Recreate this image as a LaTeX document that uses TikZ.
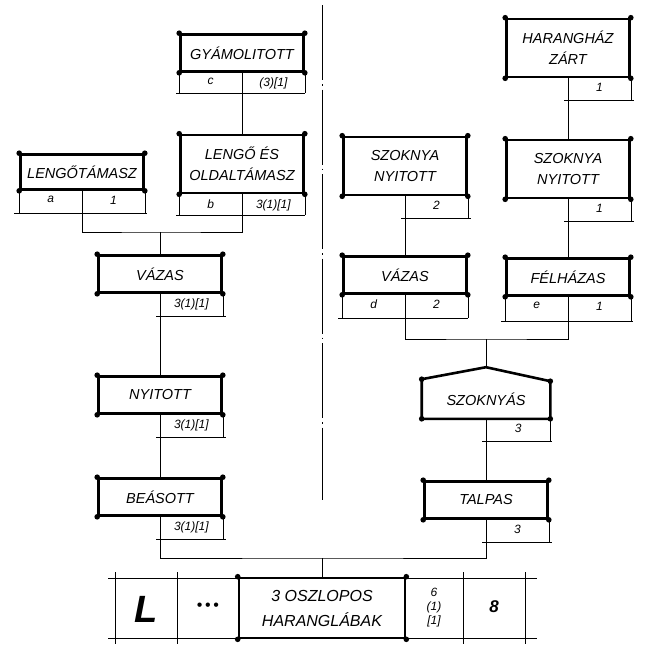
\documentclass[tikz,border=0pt]{standalone}
\usepackage{fontspec}
\setmainfont{Liberation Sans}
\usetikzlibrary{positioning}

\begin{document}
\begin{tikzpicture}[
                x=1pt, y=-1pt,
                kbox/.style={draw, line width=2.6pt, minimum width=123pt, inner sep=2pt, align=center, font=\itshape\fontsize{14.5}{21}\selectfont},
                onerow/.style={kbox, minimum height=37pt},
                tworow/.style={kbox, minimum height=58pt},
                cell/.style={inner sep=1pt, font=\itshape\fontsize{12}{13}\selectfont},
                grid/.style={line width=0.6pt},
                link/.style={line width=0.6pt}
            ]

            \useasboundingbox (0,0) rectangle (647,648);

            % Bal oldal
            \node[onerow] (gyam) at (242,53) {GYÁMOLITOTT};
            \node[onerow, minimum height=35pt] (lengo) at (82,172) {LENGŐTÁMASZ};
            \node[tworow] (oldal) at (242,164) {LENGŐ ÉS\\OLDALTÁMASZ};
            \node[onerow] (vazasL) at (160,274) {VÁZAS};
            \node[onerow] (nyitott) at (160,395) {NYITOTT};
            \node[onerow] (beasott) at (160,497) {BEÁSOTT};

            % Jobb oldal
            \node[tworow] (harang) at (568,48) {HARANGHÁZ\\ZÁRT};
            \node[tworow] (szokL) at (405,166) {SZOKNYA\\NYITOTT};
            \node[tworow] (szokR) at (568,169) {SZOKNYA\\NYITOTT};
            \node[onerow] (vazasR) at (405,275) {VÁZAS};
            \node[onerow] (felhaz) at (568,277) {FÉLHÁZAS};
            \node[kbox, draw=none, minimum width=126pt, minimum height=37pt] (szoknyas) at (486,399) {SZOKNYÁS};
            \coordinate (szoknyasTop) at ([yshift=12pt]szoknyas.north);
            \draw[line width=2.6pt, line join=round] (szoknyas.south west) -- (szoknyas.north west)
                -- (szoknyasTop) -- ([yshift=-2pt]szoknyas.north east) -- (szoknyas.south east) -- cycle;
            \node[onerow] (talpas) at (486,500) {TALPAS};

            % Alul: a csoport
            \node[kbox, minimum width=166pt, minimum height=60pt, font=\itshape\fontsize{16}{25}\selectfont] (harangl) at (322,608) {3 OSZLOPOS\\HARANGLÁBAK};
            \node[font=\bfseries\itshape\fontsize{38}{38}\selectfont] (cellL) at (146,609) {L};
            \node[font=\fontsize{16}{16}\selectfont] (cellDots) at (208,607) {•\,•\,•};
            \node[align=center, font=\itshape\fontsize{12}{14}\selectfont] (cellNum) at (434,608) {6\\(1)\\{[}1{]}};
            \node[font=\bfseries\itshape\fontsize{17}{17}\selectfont] (cellEight) at (494,607) {8};
            \draw[grid] (108,578) -- (537,578) (108,638) -- (537,638);
            \foreach \x in {115,177,463,525}
                \draw[grid] (\x,572) -- (\x,644);

            % sarokpontok
            \foreach \n in {gyam, lengo, oldal, vazasL, nyitott, beasott, harang, szokL, szokR, vazasR, felhaz, talpas, harangl}
                \foreach \c in {north west, north east, south west, south east}
                    \fill (\n.\c) circle (2.8pt);
            \foreach \c in {south west, south east, north west}
                \fill (szoknyas.\c) circle (2.8pt);
            \fill ([yshift=-2pt]szoknyas.north east) circle (2.8pt);

            % teljes alsor (ket cella)
            \draw[grid] (gyam.south west) -- ++(0,20) (gyam.south east) -- ++(0,20)
                (gyam.south west) ++(-3,20) -- ++(129,0);
            \path (gyam.south west) -- (gyam.south) node[midway, below=4pt, cell] {c};
            \path (gyam.south) -- (gyam.south east) node[midway, below=4pt, cell] {(3)[1]};

            \draw[grid] (lengo.south west) -- ++(0,22) (lengo.south east) -- ++(0,22)
                (lengo.south west) ++(-5,22) -- ++(133,0);
            \path (lengo.south west) -- (lengo.south) node[midway, below=4pt, cell] {a};
            \path (lengo.south) -- (lengo.south east) node[midway, below=4pt, cell] {1};

            \draw[grid] (oldal.south west) -- ++(0,21) (oldal.south east) -- ++(0,21)
                (oldal.south west) ++(-3,21) -- ++(129,0);
            \path (oldal.south west) -- (oldal.south) node[midway, below=4pt, cell] {b};
            \path (oldal.south) -- (oldal.south east) node[midway, below=4pt, cell] {3(1)[1]};

            \draw[grid] (vazasR.south west) -- ++(0,23) (vazasR.south east) -- ++(0,23)
                (vazasR.south west) ++(-4,23) -- ++(130,0);
            \path (vazasR.south west) -- (vazasR.south) node[midway, below=4pt, cell] {d};
            \path (vazasR.south) -- (vazasR.south east) node[midway, below=4pt, cell] {2};

            \draw[grid] (felhaz.south west) -- ++(0,24) (felhaz.south east) -- ++(0,24)
                (felhaz.south west) ++(-4,24) -- ++(132,0);
            \path (felhaz.south west) -- (felhaz.south) node[midway, below=4pt, cell] {e};
            \path (felhaz.south) -- (felhaz.south east) node[midway, below=4pt, cell] {1};

            % fel alsor (jobb cella)
            \foreach \n/\t in {vazasL/3(1)[1], nyitott/3(1)[1], beasott/3(1)[1], harang/1, szokL/2, szokR/1, szoknyas/3, talpas/3} {
                \draw[grid] (\n.south east) -- ++(0,22) (\n.south) ++(-4,22) -- ++(70,0);
                \path (\n.south) -- (\n.south east) node[midway, below=4pt, cell] {\t};
            }

            % kapcsolatok
            \coordinate (joinL) at (160,232);
            \coordinate (joinR) at (486,339);
            \coordinate (joinB) at (322,558);
            \draw[link] (gyam.south) -- (oldal.north);
            \draw[link] (lengo.south) |- (joinL) -| (oldal.south);
            \draw[link] (joinL) -- (vazasL.north);
            \draw[link] (vazasL.south) -- (nyitott.north);
            \draw[link] (nyitott.south) -- (beasott.north);
            \draw[link] (harang.south) -- (szokR.north);
            \draw[link] (szokL.south) -- (vazasR.north);
            \draw[link] (szokR.south) -- (felhaz.north);
            \draw[link] (vazasR.south) |- (joinR) -| (felhaz.south);
            \draw[link] (joinR) -- (szoknyasTop);
            \draw[link] (szoknyas.south) -- (talpas.north);
            \draw[link] (beasott.south) |- (joinB) -| (talpas.south);
            \draw[link] (joinB) -- (harangl.north);

            % kozepvonal
            \draw[grid, dash pattern=on 75pt off 4pt on 1.5pt off 4pt] (322,5) -- (322,500);
        \end{tikzpicture}
\end{document}
